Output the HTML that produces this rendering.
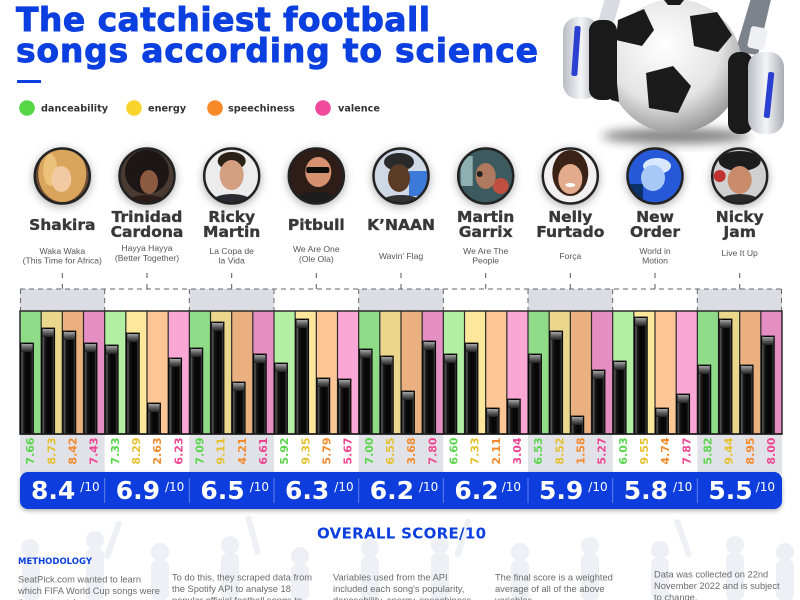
<!DOCTYPE html>
<html>
<head>
<meta charset="utf-8">
<style>
html,body{margin:0;padding:0;background:#fff;}
svg{display:block;}
.nm{font-family:"DejaVu Sans","Liberation Sans",sans-serif;font-weight:bold;font-size:15.5px;fill:#383838;stroke:#383838;stroke-width:0.35;text-anchor:middle;}
.sg{font-family:"Liberation Sans",sans-serif;font-size:8.6px;fill:#555;text-anchor:middle;}
.lgd{font-family:"DejaVu Sans","Liberation Sans",sans-serif;font-weight:bold;font-size:9.7px;fill:#333;}
.b{fill:url(#barG);stroke:#000;stroke-width:0.8;}
.c{fill:url(#capG);}
.v{font-family:"DejaVu Sans","Liberation Sans",sans-serif;font-weight:bold;font-size:11px;text-anchor:middle;dominant-baseline:central;}
.vg{fill:#5ad64c;}.vy{fill:#e5c12f;}.vo{fill:#f28a2c;}.vp{fill:#ee4593;}
.sc{font-family:"DejaVu Sans","Liberation Sans",sans-serif;font-weight:bold;font-size:25px;fill:#fff;}
.s10{font-family:"DejaVu Sans","Liberation Sans",sans-serif;font-size:12px;fill:#fff;}
.mt{font-family:"Liberation Sans",sans-serif;font-size:9.3px;fill:#6b6b6b;}
.tt{font-family:"DejaVu Sans","Liberation Sans",sans-serif;font-weight:bold;font-size:33px;fill:#0c3fdf;stroke:#0c3fdf;stroke-width:0.9;}
</style>
</head>
<body>
<svg width="800" height="600" viewBox="0 0 800 600" xmlns="http://www.w3.org/2000/svg">
<defs>
<linearGradient id="barG" x1="0" y1="0" x2="1" y2="0">
<stop offset="0" stop-color="#0a0a0a"/><stop offset="0.12" stop-color="#5a5a5a"/><stop offset="0.25" stop-color="#161616"/><stop offset="0.5" stop-color="#050505"/><stop offset="0.8" stop-color="#0a0a0a"/><stop offset="0.9" stop-color="#3a3a3a"/><stop offset="1" stop-color="#0a0a0a"/>
</linearGradient>
<linearGradient id="capG" x1="0" y1="0" x2="0" y2="1">
<stop offset="0" stop-color="#a5a5a5"/><stop offset="0.5" stop-color="#5c5c5c"/><stop offset="1" stop-color="#202020"/>
</linearGradient>
<radialGradient id="ballG" cx="0.42" cy="0.35" r="0.7">
<stop offset="0" stop-color="#ffffff"/><stop offset="0.6" stop-color="#e4e4e4"/><stop offset="1" stop-color="#8e8e8e"/>
</radialGradient>
<linearGradient id="silv" x1="0" y1="0" x2="1" y2="0">
<stop offset="0" stop-color="#b8bcc4"/><stop offset="0.5" stop-color="#f4f5f8"/><stop offset="1" stop-color="#a8acb4"/>
</linearGradient>
<clipPath id="pc"><circle cx="0" cy="0" r="27"/></clipPath>
<filter id="sh" x="-60%" y="-60%" width="220%" height="220%"><feDropShadow dx="0" dy="2" stdDeviation="4.5" flood-color="#000" flood-opacity="0.32"/></filter>
<filter id="blur" x="-50%" y="-50%" width="200%" height="200%"><feGaussianBlur stdDeviation="5"/></filter>
<filter id="bsh" x="-10%" y="-50%" width="120%" height="200%"><feDropShadow dx="0" dy="2" stdDeviation="2" flood-color="#000" flood-opacity="0.3"/></filter>
</defs>

<!-- faint crowd background -->
<g fill="#eef0f5">
<circle cx="30" cy="548" r="9"/><rect x="22" y="556" width="18" height="44" rx="6"/>
<circle cx="95" cy="540" r="9"/><rect x="86" y="548" width="18" height="52" rx="6"/>
<rect x="110" y="520" width="6" height="40" rx="3" transform="rotate(20 113 540)"/>
<circle cx="160" cy="552" r="9"/><rect x="151" y="560" width="18" height="40" rx="6"/>
<circle cx="230" cy="545" r="9"/><rect x="221" y="553" width="18" height="47" rx="6"/>
<rect x="250" y="515" width="6" height="40" rx="3" transform="rotate(-15 253 535)"/>
<circle cx="300" cy="556" r="9"/><rect x="291" y="564" width="18" height="36" rx="6"/>
<circle cx="370" cy="548" r="9"/><rect x="361" y="556" width="18" height="44" rx="6"/>
<circle cx="440" cy="545" r="9"/><rect x="431" y="553" width="18" height="47" rx="6"/>
<rect x="460" y="518" width="6" height="40" rx="3" transform="rotate(18 463 538)"/>
<circle cx="520" cy="552" r="9"/><rect x="511" y="560" width="18" height="40" rx="6"/>
<circle cx="590" cy="546" r="9"/><rect x="581" y="554" width="18" height="46" rx="6"/>
<circle cx="660" cy="550" r="9"/><rect x="651" y="558" width="18" height="42" rx="6"/>
<rect x="680" y="518" width="6" height="40" rx="3" transform="rotate(-20 683 538)"/>
<circle cx="735" cy="545" r="9"/><rect x="726" y="553" width="18" height="47" rx="6"/>
<circle cx="785" cy="552" r="9"/><rect x="776" y="560" width="18" height="40" rx="6"/>
</g>

<!-- Title -->
<text class="tt" x="16" y="31" textLength="414" lengthAdjust="spacing">The catchiest football</text>
<text class="tt" x="16" y="62" textLength="522" lengthAdjust="spacing">songs according to science</text>
<rect x="17" y="80" width="24" height="3" fill="#0c3fdf"/>

<!-- Legend -->
<circle cx="27" cy="108" r="7.8" fill="#55d644"/>
<text class="lgd" x="41" y="111.5">danceability</text>
<circle cx="134" cy="108" r="7.8" fill="#f8d42c"/>
<text class="lgd" x="148" y="111.5">energy</text>
<circle cx="215" cy="108" r="7.8" fill="#f78a28"/>
<text class="lgd" x="228" y="111.5">speechiness</text>
<circle cx="323" cy="108" r="7.8" fill="#f04a9e"/>
<text class="lgd" x="338" y="111.5">valence</text>

<!-- Football with headphones -->
<ellipse cx="676" cy="136" rx="74" ry="8" fill="#222" opacity="0.55" filter="url(#blur)"/>
<path d="M735 52 L752 -5 L772 -5 L758 55 Z" fill="#7d838c"/>
<rect x="749" y="27" width="17" height="22" rx="3" fill="#eef0f3" transform="rotate(12 757 38)"/>
<path d="M598 22 L606 -5 L622 -5 L614 22 Z" fill="#d8dce2"/>
<circle cx="675" cy="66" r="67" fill="url(#ballG)"/>
<g fill="#1b1b1b">
<polygon points="618,20 644,9 654,30 642,46 616,40"/>
<polygon points="690,16 717,12 732,35 718,52 694,46"/>
<polygon points="646,73 673,66 691,86 678,113 649,108"/>
<polygon points="730,72 742,74 741,102 729,98"/>
<polygon points="609,78 616,74 619,102 611,100"/>
<polygon points="664,0 684,0 680,5 668,5"/>
</g>
<rect x="563" y="17" width="36" height="82" rx="15" fill="url(#silv)"/>
<rect x="573" y="26" width="6" height="50" rx="2" fill="#2b3fd0" transform="rotate(4 576 51)"/>
<rect x="589" y="20" width="28" height="80" rx="11" fill="#1a1a1a"/>
<rect x="728" y="52" width="25" height="82" rx="11" fill="#1a1a1a"/>
<rect x="748" y="52" width="36" height="82" rx="15" fill="url(#silv)"/>
<rect x="766" y="72" width="6" height="46" rx="2" fill="#2b3fd0" transform="rotate(6 769 95)"/>

<!-- Photos -->
<g transform="translate(62.3,176)" filter="url(#sh)"><g clip-path="url(#pc)">
<rect x="-30" y="-30" width="60" height="60" fill="#6b4a35"/><ellipse cx="0" cy="-2" rx="24" ry="28" fill="#d9a55c"/><ellipse cx="-12" cy="-6" rx="7" ry="16" fill="#ecc27a"/><ellipse cx="-1" cy="3" rx="10" ry="13" fill="#f1c9a3"/></g>
<circle r="27.5" fill="none" stroke="#222" stroke-width="2.5"/></g>
<g transform="translate(147,176)" filter="url(#sh)"><g clip-path="url(#pc)">
<rect x="-30" y="-30" width="60" height="60" fill="#4a3a30"/><circle cx="0" cy="-4" r="22" fill="#1d1512"/><ellipse cx="2" cy="6" rx="9" ry="12" fill="#8c5a3f"/><ellipse cx="0" cy="27" rx="20" ry="8" fill="#2a1a14"/></g>
<circle r="27.5" fill="none" stroke="#222" stroke-width="2.5"/></g>
<g transform="translate(231.7,176)" filter="url(#sh)"><g clip-path="url(#pc)">
<rect x="-30" y="-30" width="60" height="60" fill="#ececec"/><ellipse cx="0" cy="-15" rx="14" ry="9" fill="#2a2018"/><ellipse cx="0" cy="-1" rx="12" ry="15" fill="#d49e80"/><ellipse cx="0" cy="28" rx="22" ry="10" fill="#2a2a30"/></g>
<circle r="27.5" fill="none" stroke="#222" stroke-width="2.5"/></g>
<g transform="translate(316.3,176)" filter="url(#sh)"><g clip-path="url(#pc)">
<rect x="-30" y="-30" width="60" height="60" fill="#2e1c12"/><ellipse cx="2" cy="-4" rx="13" ry="15" fill="#d69270"/><rect x="-10" y="-9" width="23" height="6" rx="2" fill="#111"/><ellipse cx="0" cy="26" rx="22" ry="10" fill="#1a1a1a"/></g>
<circle r="27.5" fill="none" stroke="#222" stroke-width="2.5"/></g>
<g transform="translate(401,176)" filter="url(#sh)"><g clip-path="url(#pc)">
<rect x="-30" y="-30" width="60" height="60" fill="#cfd9e6"/><rect x="8" y="-5" width="20" height="25" fill="#3a7ad8"/><ellipse cx="-2" cy="-14" rx="15" ry="9" fill="#2a2a2a"/><ellipse cx="-2" cy="2" rx="11" ry="14" fill="#5a3a28"/><ellipse cx="0" cy="28" rx="22" ry="9" fill="#333"/></g>
<circle r="27.5" fill="none" stroke="#222" stroke-width="2.5"/></g>
<g transform="translate(485.7,176)" filter="url(#sh)"><g clip-path="url(#pc)">
<rect x="-30" y="-30" width="60" height="60" fill="#3d5a5e"/><rect x="-25" y="-20" width="12" height="30" fill="#8fb0b0"/><circle cx="15" cy="10" r="8" fill="#c05040"/><ellipse cx="0" cy="0" rx="10" ry="13" fill="#b07a60"/><circle cx="-6" cy="-2" r="3" fill="#222"/></g>
<circle r="27.5" fill="none" stroke="#222" stroke-width="2.5"/></g>
<g transform="translate(570.3,176)" filter="url(#sh)"><g clip-path="url(#pc)">
<rect x="-30" y="-30" width="60" height="60" fill="#f2f0f0"/><ellipse cx="0" cy="-3" rx="18" ry="23" fill="#3a2418"/><ellipse cx="0" cy="3" rx="12" ry="15" fill="#e2ab8c"/><ellipse cx="0" cy="9" rx="5" ry="2" fill="#fff"/></g>
<circle r="27.5" fill="none" stroke="#222" stroke-width="2.5"/></g>
<g transform="translate(655,176)" filter="url(#sh)"><g clip-path="url(#pc)">
<rect x="-30" y="-30" width="60" height="60" fill="#2659d8"/><rect x="-30" y="8" width="18" height="22" fill="#10306a"/><ellipse cx="2" cy="-10" rx="14" ry="8" fill="#d8e8ff"/><ellipse cx="-2" cy="2" rx="12" ry="13" fill="#a8c8f8"/></g>
<circle r="27.5" fill="none" stroke="#222" stroke-width="2.5"/></g>
<g transform="translate(739.7,176)" filter="url(#sh)"><g clip-path="url(#pc)">
<rect x="-30" y="-30" width="60" height="60" fill="#d0d0d0"/><circle cx="-20" cy="0" r="6" fill="#c03030"/><ellipse cx="0" cy="-15" rx="21" ry="10" fill="#1a1a1a"/><ellipse cx="0" cy="4" rx="12" ry="14" fill="#c98c6a"/><ellipse cx="0" cy="28" rx="22" ry="10" fill="#2a2a2a"/></g>
<circle r="27.5" fill="none" stroke="#222" stroke-width="2.5"/></g>

<!-- Names -->
<text class="nm" x="62.3" y="230">Shakira</text>
<text class="nm" x="147" y="222">Trinidad</text><text class="nm" x="147" y="237">Cardona</text>
<text class="nm" x="231.7" y="222">Ricky</text><text class="nm" x="231.7" y="237">Martin</text>
<text class="nm" x="316.3" y="230">Pitbull</text>
<text class="nm" x="401" y="230">K’NAAN</text>
<text class="nm" x="485.7" y="222">Martin</text><text class="nm" x="485.7" y="237">Garrix</text>
<text class="nm" x="570.3" y="222">Nelly</text><text class="nm" x="570.3" y="237">Furtado</text>
<text class="nm" x="655" y="222">New</text><text class="nm" x="655" y="237">Order</text>
<text class="nm" x="739.7" y="222">Nicky</text><text class="nm" x="739.7" y="237">Jam</text>

<!-- Songs -->
<text class="sg" x="62.3" y="254">Waka Waka</text><text class="sg" x="62.3" y="263.5">(This Time for Africa)</text>
<text class="sg" x="147" y="251">Hayya Hayya</text><text class="sg" x="147" y="261">(Better Together)</text>
<text class="sg" x="231.7" y="254">La Copa de</text><text class="sg" x="231.7" y="263.5">la Vida</text>
<text class="sg" x="316.3" y="252">We Are One</text><text class="sg" x="316.3" y="262">(Ole Ola)</text>
<text class="sg" x="401" y="259">Wavin' Flag</text>
<text class="sg" x="485.7" y="254">We Are The</text><text class="sg" x="485.7" y="263.5">People</text>
<text class="sg" x="570.3" y="259">Força</text>
<text class="sg" x="655" y="254">World in</text><text class="sg" x="655" y="263.5">Motion</text>
<text class="sg" x="739.7" y="256">Live It Up</text>

<!-- Top band -->
<g fill="#dcdde4">
<rect x="20" y="289" width="84.67" height="22"/>
<rect x="189.33" y="289" width="84.67" height="22"/>
<rect x="358.67" y="289" width="84.67" height="22"/>
<rect x="528" y="289" width="84.67" height="22"/>
<rect x="697.33" y="289" width="84.67" height="22"/>
</g>
<g stroke="#666" stroke-width="1" stroke-dasharray="5,4" fill="none">
<line x1="20" y1="289" x2="782" y2="289"/>
<line x1="20.5" y1="289" x2="20.5" y2="311"/>
<line x1="104.67" y1="289" x2="104.67" y2="311"/>
<line x1="189.33" y1="289" x2="189.33" y2="311"/>
<line x1="274" y1="289" x2="274" y2="311"/>
<line x1="358.67" y1="289" x2="358.67" y2="311"/>
<line x1="443.33" y1="289" x2="443.33" y2="311"/>
<line x1="528" y1="289" x2="528" y2="311"/>
<line x1="612.67" y1="289" x2="612.67" y2="311"/>
<line x1="697.33" y1="289" x2="697.33" y2="311"/>
<line x1="781.5" y1="289" x2="781.5" y2="311"/>
</g>
<g stroke="#555" stroke-width="1">
<line x1="62.3" y1="273" x2="62.3" y2="278"/><line x1="62.3" y1="284" x2="62.3" y2="289"/>
<line x1="147" y1="273" x2="147" y2="278"/><line x1="147" y1="284" x2="147" y2="289"/>
<line x1="231.7" y1="273" x2="231.7" y2="278"/><line x1="231.7" y1="284" x2="231.7" y2="289"/>
<line x1="316.3" y1="273" x2="316.3" y2="278"/><line x1="316.3" y1="284" x2="316.3" y2="289"/>
<line x1="401" y1="273" x2="401" y2="278"/><line x1="401" y1="284" x2="401" y2="289"/>
<line x1="485.7" y1="273" x2="485.7" y2="278"/><line x1="485.7" y1="284" x2="485.7" y2="289"/>
<line x1="570.3" y1="273" x2="570.3" y2="278"/><line x1="570.3" y1="284" x2="570.3" y2="289"/>
<line x1="655" y1="273" x2="655" y2="278"/><line x1="655" y1="284" x2="655" y2="289"/>
<line x1="739.7" y1="273" x2="739.7" y2="278"/><line x1="739.7" y1="284" x2="739.7" y2="289"/>
</g>

<!-- Label backgrounds -->
<g fill="#e1e2e7">
<rect x="20" y="434" width="84.67" height="40"/>
<rect x="189.33" y="434" width="84.67" height="40"/>
<rect x="358.67" y="434" width="84.67" height="40"/>
<rect x="528" y="434" width="84.67" height="40"/>
<rect x="697.33" y="434" width="84.67" height="40"/>
</g>

<!-- Columns -->
<g>
<rect x="20" y="311" width="21.17" height="123" fill="#8fdb88"/><rect x="41.17" y="311" width="21.17" height="123" fill="#ebd78b"/><rect x="62.33" y="311" width="21.17" height="123" fill="#eab07f"/><rect x="83.5" y="311" width="21.17" height="123" fill="#e48ec3"/>
<rect x="104.67" y="311" width="21.17" height="123" fill="#b3efa2"/><rect x="125.83" y="311" width="21.17" height="123" fill="#fde79b"/><rect x="147" y="311" width="21.17" height="123" fill="#fcc696"/><rect x="168.17" y="311" width="21.17" height="123" fill="#fba7d5"/>
<rect x="189.33" y="311" width="21.17" height="123" fill="#8fdb88"/><rect x="210.5" y="311" width="21.17" height="123" fill="#ebd78b"/><rect x="231.67" y="311" width="21.17" height="123" fill="#eab07f"/><rect x="252.83" y="311" width="21.17" height="123" fill="#e48ec3"/>
<rect x="274" y="311" width="21.17" height="123" fill="#b3efa2"/><rect x="295.17" y="311" width="21.17" height="123" fill="#fde79b"/><rect x="316.33" y="311" width="21.17" height="123" fill="#fcc696"/><rect x="337.5" y="311" width="21.17" height="123" fill="#fba7d5"/>
<rect x="358.67" y="311" width="21.17" height="123" fill="#8fdb88"/><rect x="379.83" y="311" width="21.17" height="123" fill="#ebd78b"/><rect x="401" y="311" width="21.17" height="123" fill="#eab07f"/><rect x="422.17" y="311" width="21.17" height="123" fill="#e48ec3"/>
<rect x="443.33" y="311" width="21.17" height="123" fill="#b3efa2"/><rect x="464.5" y="311" width="21.17" height="123" fill="#fde79b"/><rect x="485.67" y="311" width="21.17" height="123" fill="#fcc696"/><rect x="506.83" y="311" width="21.17" height="123" fill="#fba7d5"/>
<rect x="528" y="311" width="21.17" height="123" fill="#8fdb88"/><rect x="549.17" y="311" width="21.17" height="123" fill="#ebd78b"/><rect x="570.33" y="311" width="21.17" height="123" fill="#eab07f"/><rect x="591.5" y="311" width="21.17" height="123" fill="#e48ec3"/>
<rect x="612.67" y="311" width="21.17" height="123" fill="#b3efa2"/><rect x="633.83" y="311" width="21.17" height="123" fill="#fde79b"/><rect x="655" y="311" width="21.17" height="123" fill="#fcc696"/><rect x="676.17" y="311" width="21.17" height="123" fill="#fba7d5"/>
<rect x="697.33" y="311" width="21.17" height="123" fill="#8fdb88"/><rect x="718.5" y="311" width="21.17" height="123" fill="#ebd78b"/><rect x="739.67" y="311" width="21.17" height="123" fill="#eab07f"/><rect x="760.83" y="311" width="21.17" height="123" fill="#e48ec3"/>
</g>
<!-- Column separators -->
<g stroke="#2a2a2a" stroke-width="1.2">
<line x1="41.17" y1="311" x2="41.17" y2="434"/><line x1="62.33" y1="311" x2="62.33" y2="434"/><line x1="83.5" y1="311" x2="83.5" y2="434"/><line x1="104.67" y1="311" x2="104.67" y2="434"/>
<line x1="125.83" y1="311" x2="125.83" y2="434"/><line x1="147" y1="311" x2="147" y2="434"/><line x1="168.17" y1="311" x2="168.17" y2="434"/><line x1="189.33" y1="311" x2="189.33" y2="434"/>
<line x1="210.5" y1="311" x2="210.5" y2="434"/><line x1="231.67" y1="311" x2="231.67" y2="434"/><line x1="252.83" y1="311" x2="252.83" y2="434"/><line x1="274" y1="311" x2="274" y2="434"/>
<line x1="295.17" y1="311" x2="295.17" y2="434"/><line x1="316.33" y1="311" x2="316.33" y2="434"/><line x1="337.5" y1="311" x2="337.5" y2="434"/><line x1="358.67" y1="311" x2="358.67" y2="434"/>
<line x1="379.83" y1="311" x2="379.83" y2="434"/><line x1="401" y1="311" x2="401" y2="434"/><line x1="422.17" y1="311" x2="422.17" y2="434"/><line x1="443.33" y1="311" x2="443.33" y2="434"/>
<line x1="464.5" y1="311" x2="464.5" y2="434"/><line x1="485.67" y1="311" x2="485.67" y2="434"/><line x1="506.83" y1="311" x2="506.83" y2="434"/><line x1="528" y1="311" x2="528" y2="434"/>
<line x1="549.17" y1="311" x2="549.17" y2="434"/><line x1="570.33" y1="311" x2="570.33" y2="434"/><line x1="591.5" y1="311" x2="591.5" y2="434"/><line x1="612.67" y1="311" x2="612.67" y2="434"/>
<line x1="633.83" y1="311" x2="633.83" y2="434"/><line x1="655" y1="311" x2="655" y2="434"/><line x1="676.17" y1="311" x2="676.17" y2="434"/><line x1="697.33" y1="311" x2="697.33" y2="434"/>
<line x1="718.5" y1="311" x2="718.5" y2="434"/><line x1="739.67" y1="311" x2="739.67" y2="434"/><line x1="760.83" y1="311" x2="760.83" y2="434"/>
</g>
<rect x="20" y="311" width="762" height="123" fill="none" stroke="#2a2a2a" stroke-width="1.5"/>

<!-- Bars -->
<g>
<rect class="b" x="20.5" y="343" width="13" height="91"/><rect class="c" x="21.5" y="344" width="11" height="8"/>
<rect class="b" x="41.67" y="328" width="13" height="106"/><rect class="c" x="42.67" y="329" width="11" height="8"/>
<rect class="b" x="62.83" y="331" width="13" height="103"/><rect class="c" x="63.83" y="332" width="11" height="8"/>
<rect class="b" x="84" y="343" width="13" height="91"/><rect class="c" x="85" y="344" width="11" height="8"/>

<rect class="b" x="105.17" y="345" width="13" height="89"/><rect class="c" x="106.17" y="346" width="11" height="8"/>
<rect class="b" x="126.33" y="333" width="13" height="101"/><rect class="c" x="127.33" y="334" width="11" height="8"/>
<rect class="b" x="147.5" y="403" width="13" height="31"/><rect class="c" x="148.5" y="404" width="11" height="8"/>
<rect class="b" x="168.67" y="358" width="13" height="76"/><rect class="c" x="169.67" y="359" width="11" height="8"/>

<rect class="b" x="189.83" y="348" width="13" height="86"/><rect class="c" x="190.83" y="349" width="11" height="8"/>
<rect class="b" x="211" y="322" width="13" height="112"/><rect class="c" x="212" y="323" width="11" height="8"/>
<rect class="b" x="232.17" y="382" width="13" height="52"/><rect class="c" x="233.17" y="383" width="11" height="8"/>
<rect class="b" x="253.33" y="354" width="13" height="80"/><rect class="c" x="254.33" y="355" width="11" height="8"/>

<rect class="b" x="274.5" y="363" width="13" height="71"/><rect class="c" x="275.5" y="364" width="11" height="8"/>
<rect class="b" x="295.67" y="319" width="13" height="115"/><rect class="c" x="296.67" y="320" width="11" height="8"/>
<rect class="b" x="316.83" y="378" width="13" height="56"/><rect class="c" x="317.83" y="379" width="11" height="8"/>
<rect class="b" x="338" y="379" width="13" height="55"/><rect class="c" x="339" y="380" width="11" height="8"/>

<rect class="b" x="359.17" y="349" width="13" height="85"/><rect class="c" x="360.17" y="350" width="11" height="8"/>
<rect class="b" x="380.33" y="356" width="13" height="78"/><rect class="c" x="381.33" y="357" width="11" height="8"/>
<rect class="b" x="401.5" y="391" width="13" height="43"/><rect class="c" x="402.5" y="392" width="11" height="8"/>
<rect class="b" x="422.67" y="341" width="13" height="93"/><rect class="c" x="423.67" y="342" width="11" height="8"/>

<rect class="b" x="443.83" y="354" width="13" height="80"/><rect class="c" x="444.83" y="355" width="11" height="8"/>
<rect class="b" x="465" y="343" width="13" height="91"/><rect class="c" x="466" y="344" width="11" height="8"/>
<rect class="b" x="486.17" y="408" width="13" height="26"/><rect class="c" x="487.17" y="409" width="11" height="8"/>
<rect class="b" x="507.33" y="399" width="13" height="35"/><rect class="c" x="508.33" y="400" width="11" height="8"/>

<rect class="b" x="528.5" y="354" width="13" height="80"/><rect class="c" x="529.5" y="355" width="11" height="8"/>
<rect class="b" x="549.67" y="331" width="13" height="103"/><rect class="c" x="550.67" y="332" width="11" height="8"/>
<rect class="b" x="570.83" y="416" width="13" height="18"/><rect class="c" x="571.83" y="417" width="11" height="8"/>
<rect class="b" x="592" y="370" width="13" height="64"/><rect class="c" x="593" y="371" width="11" height="8"/>

<rect class="b" x="613.17" y="361" width="13" height="73"/><rect class="c" x="614.17" y="362" width="11" height="8"/>
<rect class="b" x="634.33" y="317" width="13" height="117"/><rect class="c" x="635.33" y="318" width="11" height="8"/>
<rect class="b" x="655.5" y="408" width="13" height="26"/><rect class="c" x="656.5" y="409" width="11" height="8"/>
<rect class="b" x="676.67" y="394" width="13" height="40"/><rect class="c" x="677.67" y="395" width="11" height="8"/>

<rect class="b" x="697.83" y="365" width="13" height="69"/><rect class="c" x="698.83" y="366" width="11" height="8"/>
<rect class="b" x="719" y="319" width="13" height="115"/><rect class="c" x="720" y="320" width="11" height="8"/>
<rect class="b" x="740.17" y="365" width="13" height="69"/><rect class="c" x="741.17" y="366" width="11" height="8"/>
<rect class="b" x="761.33" y="336" width="13" height="98"/><rect class="c" x="762.33" y="337" width="11" height="8"/>
</g>
<line x1="20" y1="434" x2="782" y2="434" stroke="#1a1a1a" stroke-width="1.5"/>

<!-- Value labels -->
<g>
<text class="v vg" transform="translate(30.58,451) rotate(-90)">7.66</text>
<text class="v vy" transform="translate(51.75,451) rotate(-90)">8.73</text>
<text class="v vo" transform="translate(72.92,451) rotate(-90)">8.42</text>
<text class="v vp" transform="translate(94.08,451) rotate(-90)">7.43</text>
<text class="v vg" transform="translate(115.25,451) rotate(-90)">7.33</text>
<text class="v vy" transform="translate(136.42,451) rotate(-90)">8.29</text>
<text class="v vo" transform="translate(157.58,451) rotate(-90)">2.63</text>
<text class="v vp" transform="translate(178.75,451) rotate(-90)">6.23</text>
<text class="v vg" transform="translate(199.92,451) rotate(-90)">7.09</text>
<text class="v vy" transform="translate(221.08,451) rotate(-90)">9.11</text>
<text class="v vo" transform="translate(242.25,451) rotate(-90)">4.21</text>
<text class="v vp" transform="translate(263.42,451) rotate(-90)">6.61</text>
<text class="v vg" transform="translate(284.58,451) rotate(-90)">5.92</text>
<text class="v vy" transform="translate(305.75,451) rotate(-90)">9.35</text>
<text class="v vo" transform="translate(326.92,451) rotate(-90)">5.79</text>
<text class="v vp" transform="translate(348.08,451) rotate(-90)">5.67</text>
<text class="v vg" transform="translate(369.25,451) rotate(-90)">7.00</text>
<text class="v vy" transform="translate(390.42,451) rotate(-90)">6.55</text>
<text class="v vo" transform="translate(411.58,451) rotate(-90)">3.68</text>
<text class="v vp" transform="translate(432.75,451) rotate(-90)">7.80</text>
<text class="v vg" transform="translate(453.92,451) rotate(-90)">6.60</text>
<text class="v vy" transform="translate(475.08,451) rotate(-90)">7.33</text>
<text class="v vo" transform="translate(496.25,451) rotate(-90)">2.11</text>
<text class="v vp" transform="translate(517.42,451) rotate(-90)">3.04</text>
<text class="v vg" transform="translate(538.58,451) rotate(-90)">6.53</text>
<text class="v vy" transform="translate(559.75,451) rotate(-90)">8.52</text>
<text class="v vo" transform="translate(580.92,451) rotate(-90)">1.58</text>
<text class="v vp" transform="translate(602.08,451) rotate(-90)">5.27</text>
<text class="v vg" transform="translate(623.25,451) rotate(-90)">6.03</text>
<text class="v vy" transform="translate(644.42,451) rotate(-90)">9.55</text>
<text class="v vo" transform="translate(665.58,451) rotate(-90)">4.74</text>
<text class="v vp" transform="translate(686.75,451) rotate(-90)">7.87</text>
<text class="v vg" transform="translate(707.92,451) rotate(-90)">5.82</text>
<text class="v vy" transform="translate(729.08,451) rotate(-90)">9.44</text>
<text class="v vo" transform="translate(750.25,451) rotate(-90)">8.95</text>
<text class="v vp" transform="translate(771.42,451) rotate(-90)">8.00</text>
</g>

<!-- Score bar -->
<rect x="20" y="472" width="762" height="37" rx="8" fill="#0b3ddd" filter="url(#bsh)"/>
<g stroke="#ffffff" stroke-opacity="0.35" stroke-width="1">
<line x1="104.67" y1="478" x2="104.67" y2="503"/><line x1="189.33" y1="478" x2="189.33" y2="503"/><line x1="274" y1="478" x2="274" y2="503"/><line x1="358.67" y1="478" x2="358.67" y2="503"/><line x1="443.33" y1="478" x2="443.33" y2="503"/><line x1="528" y1="478" x2="528" y2="503"/><line x1="612.67" y1="478" x2="612.67" y2="503"/><line x1="697.33" y1="478" x2="697.33" y2="503"/>
</g>
<text class="sc" x="31" y="499">8.4</text><text class="s10" x="80.3" y="491">/10</text>
<text class="sc" x="115.7" y="499">6.9</text><text class="s10" x="165" y="491">/10</text>
<text class="sc" x="200.4" y="499">6.5</text><text class="s10" x="249.7" y="491">/10</text>
<text class="sc" x="285" y="499">6.3</text><text class="s10" x="334.3" y="491">/10</text>
<text class="sc" x="369.7" y="499">6.2</text><text class="s10" x="419" y="491">/10</text>
<text class="sc" x="454.4" y="499">6.2</text><text class="s10" x="501.7" y="491">/10</text>
<text class="sc" x="539" y="499">5.9</text><text class="s10" x="588.3" y="491">/10</text>
<text class="sc" x="623.7" y="499">5.8</text><text class="s10" x="673" y="491">/10</text>
<text class="sc" x="708.4" y="499">5.5</text><text class="s10" x="755.7" y="491">/10</text>

<text x="401.5" y="538.5" text-anchor="middle" font-family="DejaVu Sans, Liberation Sans, sans-serif" font-weight="bold" font-size="15" fill="#0c3fdf" textLength="169" lengthAdjust="spacing">OVERALL SCORE/10</text>

<!-- Methodology -->
<text x="18" y="564" font-family="DejaVu Sans, Liberation Sans, sans-serif" font-weight="bold" font-size="8.5" fill="#0c3fdf">METHODOLOGY</text>
<text class="mt" x="18" y="582.5">SeatPick.com wanted to learn</text>
<text class="mt" x="18" y="594">which FIFA World Cup songs were</text>
<text class="mt" x="18" y="605.5">the most catchy.</text>
<text class="mt" x="172" y="580.5">To do this, they scraped data from</text>
<text class="mt" x="172" y="592">the Spotify API to analyse 18</text>
<text class="mt" x="172" y="603.5">popular official football songs to</text>
<text class="mt" x="333" y="580.5">Variables used from the API</text>
<text class="mt" x="333" y="592">included each song's popularity,</text>
<text class="mt" x="333" y="603.5">danceability, energy, speechiness</text>
<text class="mt" x="495" y="580.5">The final score is a weighted</text>
<text class="mt" x="495" y="592">average of all of the above</text>
<text class="mt" x="495" y="603.5">variables.</text>
<text class="mt" x="654" y="577.5">Data was collected on 22nd</text>
<text class="mt" x="654" y="589">November 2022 and is subject</text>
<text class="mt" x="654" y="600.5">to change.</text>
</svg>
</body>
</html>
